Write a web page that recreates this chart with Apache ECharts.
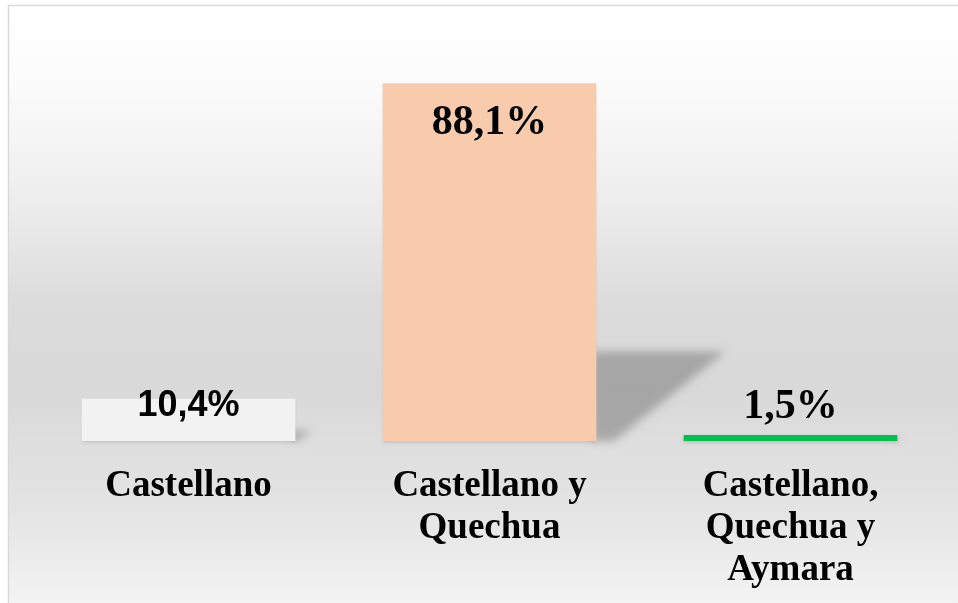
<!DOCTYPE html>
<html>
<head>
<meta charset="utf-8">
<script src="https://cdn.jsdelivr.net/npm/echarts@6/dist/echarts.min.js"></script>
<style>
    html, body { margin: 0; padding: 0; background: #fff; }
    #chart { width: 958px; height: 603px; }
</style>
</head>
<body>
<div id="chart"></div>
<script>
// datos del gráfico
var categories = ['Castellano', 'Castellano y\nQuechua', 'Castellano,\nQuechua y\nAymara'];
var values = [10.4, 88.1, 1.5];

// estilos por barra
var barColors = ['#f2f2f2', '#f8cbad', '#00bf50'];
var serif = '"Liberation Serif", "Times New Roman", serif';
var labelStyles = [
    { position: 'top', distance: 0, offset: [0, 25], fontFamily: '"Liberation Sans", Arial, sans-serif', fontSize: 36 },
    { position: 'insideTop', distance: 19, fontFamily: serif, fontSize: 42 },
    { position: 'top', distance: 7, fontFamily: serif, fontSize: 42 }
];

function fmt(v) {
    return v.toFixed(1).replace('.', ',') + '%';
}

var barData = values.map(function (v, i) {
    var lab = Object.assign({ show: true, color: '#000', fontWeight: 'bold', formatter: fmt(v) }, labelStyles[i]);
    return { value: v, itemStyle: { color: barColors[i] }, label: lab };
});
var shadowData = values.map(function (v, i) {
    return [i, v];
});

var SHIFT = 3000; // la forma se dibuja fuera y solo se ve su sombra difuminada

var myChart = echarts.init(document.getElementById('chart'));
var option = {
    backgroundColor: '#fff',
    animation: false,
    graphic: [{
        type: 'rect',
        z: -10,
        silent: true,
        shape: { x: 8.5, y: 5.5, width: 1000, height: 700 },
        style: {
            stroke: '#d9d9d9',
            lineWidth: 1.5,
            fill: new echarts.graphic.LinearGradient(0, 0, 0, 1, [
                { offset: 0, color: '#ffffff' },
                { offset: 0.12, color: '#fbfbfb' },
                { offset: 0.3, color: '#ebebeb' },
                { offset: 0.42, color: '#dcdcdc' },
                { offset: 0.55, color: '#d9d9d9' },
                { offset: 0.72, color: '#e4e4e4' },
                { offset: 0.85, color: '#f3f3f3' },
                { offset: 1, color: '#fbfbfb' }
            ])
        }
    }],
    grid: { left: 38, right: 17, top: 35, bottom: 162 },
    xAxis: {
        type: 'category',
        data: categories,
        axisLine: { show: false },
        axisTick: { show: false },
        axisLabel: {
            color: '#000',
            fontFamily: serif,
            fontWeight: 'bold',
            fontSize: 37,
            lineHeight: 42,
            margin: 24,
            interval: 0
        }
    },
    yAxis: {
        type: 'value',
        min: 0,
        max: 100,
        show: false,
        splitLine: { show: false }
    },
    series: [
        {
            // sombra en perspectiva detrás de cada barra
            type: 'custom',
            z: 1,
            silent: true,
            clip: false,
            encode: { x: 0, y: 1 },
            data: shadowData,
            renderItem: function (params, api) {
                var i = api.value(0);
                var base = api.coord([i, 0]);
                var top = api.coord([i, api.value(1)]);
                var bw = api.size([1, 0])[0] * 0.71;
                var x = base[0] + bw / 2 - SHIFT;
                var h = base[1] - top[1];
                var y1 = base[1] - h * 0.25;
                return {
                    type: 'polygon',
                    shape: {
                        points: [[x - 4, y1], [x + h * 0.36, y1], [x + h * 0.05, base[1]], [x - 4, base[1]]]
                    },
                    style: {
                        fill: '#000',
                        shadowBlur: 9,
                        shadowOffsetX: SHIFT,
                        shadowColor: 'rgba(0,0,0,0.24)'
                    }
                };
            }
        },
        {
            type: 'bar',
            z: 2,
            barCategoryGap: '29%',
            data: barData,
            itemStyle: {
                shadowColor: 'rgba(0,0,0,0.12)',
                shadowBlur: 3,
                shadowOffsetY: 2
            }
        }
    ]
};
myChart.setOption(option);
</script>
</body>
</html>
